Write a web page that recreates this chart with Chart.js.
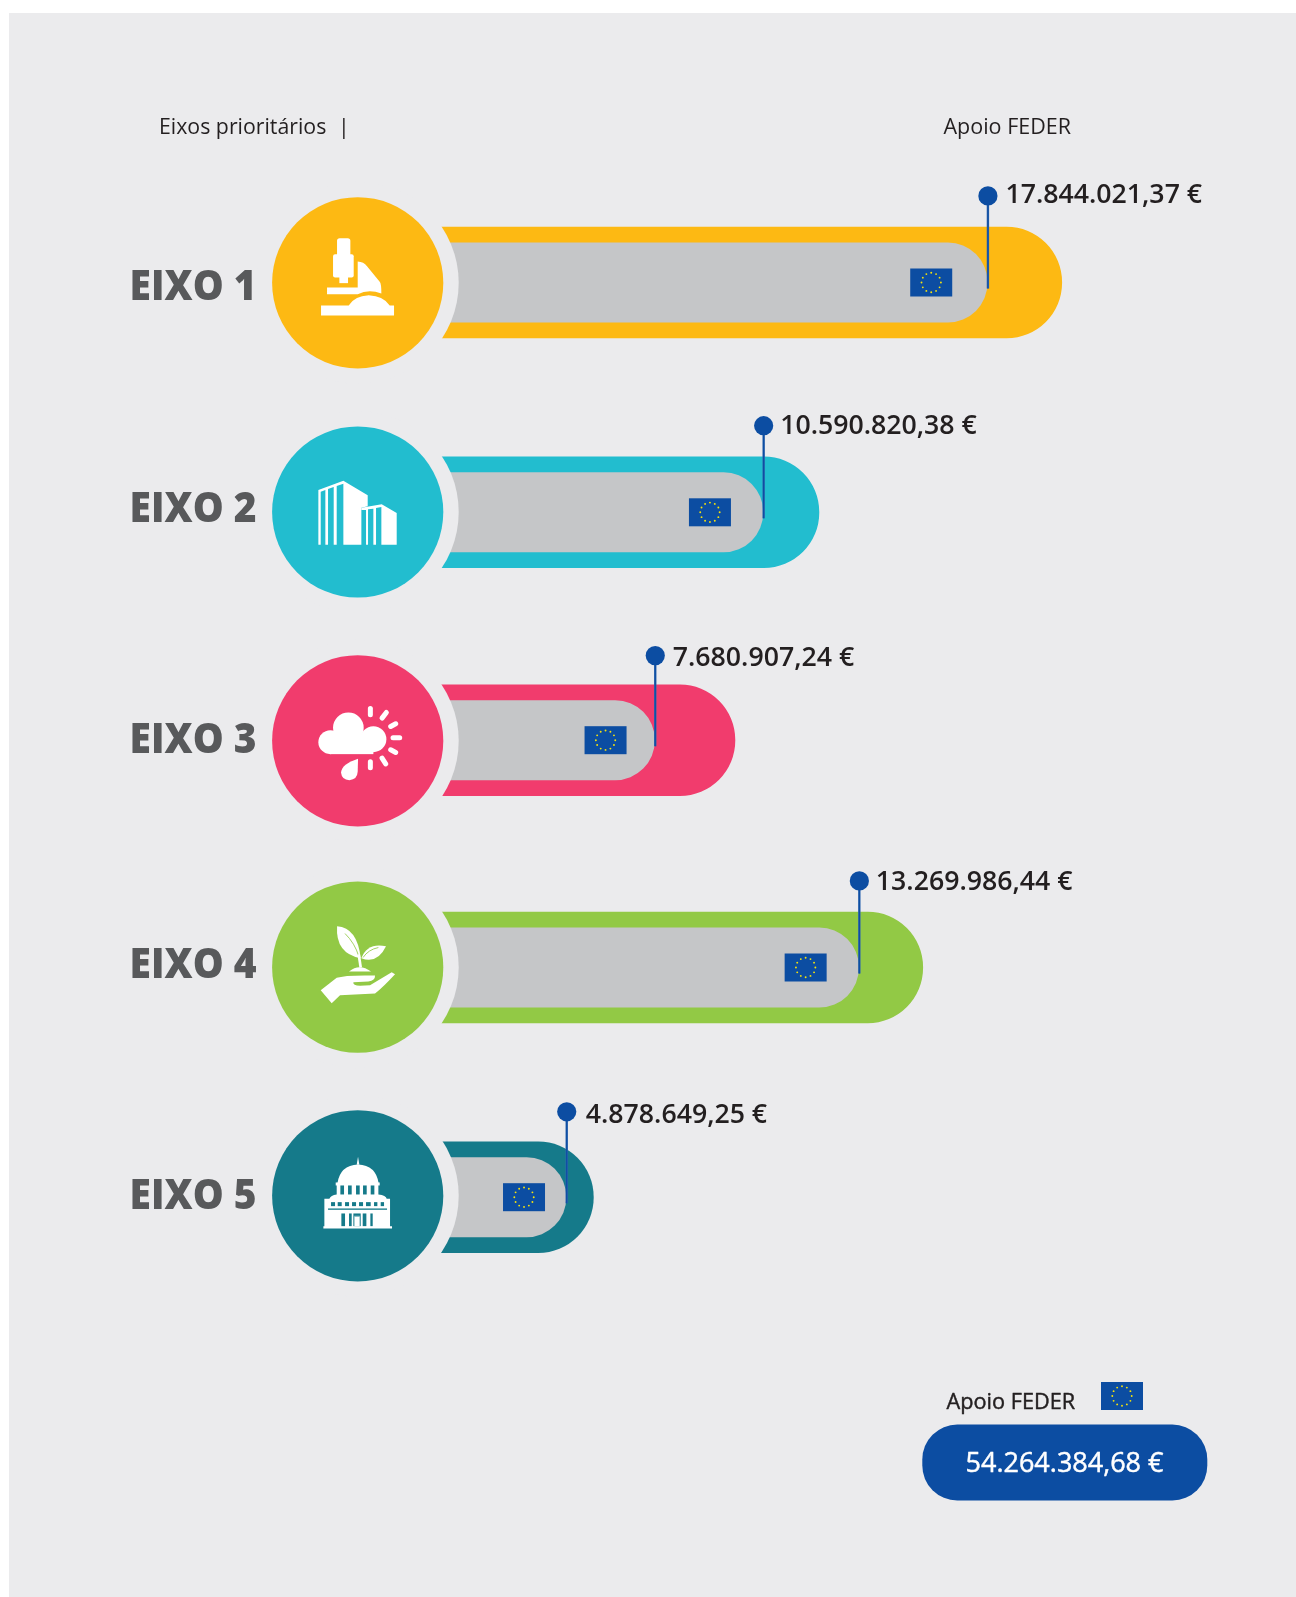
<!DOCTYPE html>
<html lang="pt">
<head>
<meta charset="utf-8">
<title>Apoio FEDER por eixo prioritário</title>
<style>html,body{margin:0;padding:0;background:#fff}canvas{display:block}</style>
<script src="https://cdn.jsdelivr.net/npm/chart.js@4/dist/chart.umd.js"></script>
</head>
<body>
<canvas id="c" width="1296" height="1597"></canvas>
<script>
// ---- Data ----
const categories = ['EIXO 1', 'EIXO 2', 'EIXO 3', 'EIXO 4', 'EIXO 5'];
// Printed amounts (euro)
const apoioFeder = [17844021.37, 10590820.38, 7680907.24, 13269986.44, 4878649.25];
const totalFeder = 54264384.68;
// Bar lengths as drawn (million-euro axis units). The infographic is not strictly proportional, so these are read off the picture.
const innerLengths = [17.85, 10.96, 7.63, 13.90, 4.91];
const outerLengths = [20.14, 12.68, 10.10, 15.87, 5.75];
const barColors = ['#fdb913', '#22bdcf', '#f13c6d', '#92c945', '#157a8a'];

const INK = '#231f20', BLUE = '#0c4da2', GREY = '#c5c6c8', BG = '#ebebed', LABEL = '#58595b';
const FONT = '"Open Sans", "Noto Sans", sans-serif';

// ---- Fine alignment (pixels) ----
const rowNudge = [-0.3, 0.9, 0.2, -1.1, 0];
const circleNudge = [0.3, -0.3, 0.6, -0.3, -1.4];
const flagGap = [77, 74, 70, 74, 63];
const labelBase = [17.2, 9.7, 11.9, 10.5, 12.9];
const dotShift = [0, 0, 2, 0, 1.2];
const textDrop = [6.6, 8.6, 10.6, 8.6, 11.6];
const textGap = [0, -1, 0, -1, 1.5];

const money = v => {
  const [i, d] = v.toFixed(2).split('.');
  return i.replace(/\B(?=(\d{3})+$)/g, '.') + ',' + d + ' €';
};

function drawFlag(ctx, x, y) {
  ctx.fillStyle = BLUE;
  ctx.fillRect(x, y, 42, 28);
  ctx.fillStyle = '#f5e20d';
  for (let i = 0; i < 12; i++) {
    const a = i * Math.PI / 6;
    ctx.beginPath();
    ctx.arc(x + 21 + 9.7 * Math.sin(a), y + 14 - 9.7 * Math.cos(a), 0.95, 0, 7);
    ctx.fill();
  }
}

// Icons are traced in a 3x grid relative to the circle centre
const icons = [
  (c, col) => { // microscope
    c.translate(-1072, -848);
    c.beginPath(); c.roundRect(1010, 714, 40, 60, 8); c.fill();
    c.beginPath(); c.roundRect(998, 762, 62, 70, 6); c.fill();
    c.fillRect(1017, 830, 26, 19);
    c.beginPath();
    c.moveTo(1072, 784); c.quadraticCurveTo(1090, 785, 1100, 798); c.lineTo(1138, 845);
    c.quadraticCurveTo(1143, 850, 1143, 880); c.quadraticCurveTo(1105, 866, 1072, 882);
    c.lineTo(980, 882); c.lineTo(980, 862); c.lineTo(1072, 862); c.closePath(); c.fill();
    c.beginPath();
    c.moveTo(962, 916); c.lineTo(1045, 916); c.quadraticCurveTo(1062, 887, 1105, 885);
    c.quadraticCurveTo(1150, 887, 1168, 916); c.lineTo(1181, 916); c.lineTo(1181, 946); c.lineTo(962, 946);
    c.closePath(); c.fill();
  },
  (c, col) => { // buildings
    c.translate(-293, -306);
    c.beginPath();
    c.moveTo(175, 240); c.lineTo(250, 212); c.lineTo(323, 256); c.lineTo(323, 289); c.lineTo(304, 293);
    c.lineTo(304, 404); c.lineTo(250, 404); c.lineTo(250, 221); c.lineTo(230, 228); c.lineTo(230, 404);
    c.lineTo(221, 404); c.lineTo(221, 231); c.lineTo(204, 237); c.lineTo(204, 404); c.lineTo(196, 404);
    c.lineTo(196, 240); c.lineTo(182, 245); c.lineTo(182, 404); c.lineTo(175, 404);
    c.closePath(); c.fill();
    c.beginPath();
    c.moveTo(304, 293); c.lineTo(365, 283); c.lineTo(410, 309); c.lineTo(410, 404); c.lineTo(364, 404);
    c.lineTo(364, 291); c.lineTo(348, 294); c.lineTo(348, 404); c.lineTo(340, 404); c.lineTo(340, 296);
    c.lineTo(324, 298); c.lineTo(324, 404); c.lineTo(318, 404); c.lineTo(318, 300); c.lineTo(304, 300);
    c.closePath(); c.fill();
  },
  (c, col) => { // cloud, sun rays and drop
    c.translate(-293, -302);
    c.beginPath(); c.arc(211, 306, 36, 0, 7); c.fill();
    c.beginPath(); c.arc(265, 263, 46, 0, 7); c.fill();
    c.beginPath(); c.arc(340, 297, 39, 0, 7); c.fill();
    c.fillRect(211, 285, 129, 57);
    c.strokeStyle = '#fff'; c.lineWidth = 15; c.lineCap = 'round';
    [[331, 205, 331, 224], [379, 217, 366, 234], [407, 251, 392, 259], [419, 293, 399, 293],
     [407, 337, 392, 329], [377, 371, 366, 354], [331, 365, 331, 383]].forEach(r => {
      c.beginPath(); c.moveTo(r[0], r[1]); c.lineTo(r[2], r[3]); c.stroke();
    });
    c.beginPath(); c.moveTo(294, 356); c.quadraticCurveTo(245, 372, 243, 397);
    c.quadraticCurveTo(245, 419, 268, 420); c.quadraticCurveTo(292, 418, 293, 395); c.closePath(); c.fill();
  },
  (c, col) => { // plant in a hand
    c.translate(-293, -291);
    c.beginPath(); c.moveTo(231, 168); c.quadraticCurveTo(292, 172, 302, 264); c.quadraticCurveTo(226, 250, 231, 168); c.fill();
    c.beginPath(); c.moveTo(378, 228); c.quadraticCurveTo(322, 216, 304, 264); c.quadraticCurveTo(352, 282, 378, 228); c.fill();
    c.strokeStyle = col; c.lineWidth = 2.5;
    c.beginPath(); c.moveTo(255, 190); c.quadraticCurveTo(285, 220, 296, 258); c.stroke();
    c.beginPath(); c.moveTo(355, 232); c.quadraticCurveTo(325, 238, 309, 262); c.stroke();
    c.strokeStyle = '#fff'; c.lineWidth = 8;
    c.beginPath(); c.moveTo(296, 252); c.lineTo(302, 292); c.stroke();
    c.beginPath(); c.moveTo(267, 304); c.quadraticCurveTo(298, 278, 333, 304); c.closePath(); c.fill();
    c.beginPath(); c.moveTo(182, 360); c.lineTo(230, 323); c.quadraticCurveTo(255, 314, 345, 316);
    c.quadraticCurveTo(346, 331, 325, 334); c.lineTo(280, 336); c.quadraticCurveTo(278, 346, 300, 347);
    c.lineTo(330, 345); c.lineTo(395, 306); c.lineTo(405, 312); c.quadraticCurveTo(370, 350, 345, 370);
    c.lineTo(240, 375); c.lineTo(215, 399); c.closePath(); c.fill();
  },
  (c, col) => { // parliament
    c.translate(-293, -287);
    c.beginPath(); c.moveTo(294, 170); c.lineTo(298, 194); c.lineTo(290, 194); c.closePath(); c.fill();
    c.beginPath(); c.moveTo(232, 250); c.quadraticCurveTo(240, 195, 294, 193); c.quadraticCurveTo(348, 195, 356, 250); c.closePath(); c.fill();
    c.fillRect(227, 247, 132, 9);
    c.fillRect(230, 254, 125, 32);
    c.beginPath(); c.moveTo(208, 296); c.quadraticCurveTo(212, 285, 230, 283); c.lineTo(355, 283);
    c.quadraticCurveTo(378, 285, 380, 296); c.lineTo(390, 296); c.lineTo(390, 378); c.lineTo(396, 378);
    c.lineTo(396, 385); c.lineTo(190, 385); c.lineTo(190, 378); c.lineTo(193, 378); c.lineTo(193, 296); c.closePath(); c.fill();
    c.fillStyle = col;
    [241, 264, 288, 309, 332].forEach(x => c.fillRect(x, 256, 11, 27));
    [[213, 12], [233, 12], [255, 12], [276, 12], [297, 12], [318, 14], [342, 10], [362, 10]].forEach(w => c.fillRect(w[0], 306, w[1], 12));
    c.fillRect(204, 325, 177, 4);
    [[244, 11], [267, 8], [280, 22], [308, 11], [331, 7]].forEach(w => c.fillRect(w[0], 340, w[1], 38));
    c.fillStyle = '#fff'; c.fillRect(283, 347, 16, 31);
    c.fillStyle = col; c.fillRect(283, 347, 16, 2);
  }
];

function mediumText(c, text, x, y, color) {
  c.fillStyle = color; c.strokeStyle = color; c.lineWidth = 0.45; c.lineJoin = 'round';
  c.fillText(text, x, y);
  c.strokeText(text, x, y);
}

const decorations = {
  id: 'decorations',
  beforeDraw(chart) {
    const c = chart.ctx;
    c.save();
    c.fillStyle = '#fff'; c.fillRect(0, 0, 1296, 1597);
    c.fillStyle = BG; c.fillRect(9, 13, 1287, 1584);
    c.restore();
  },
  beforeDatasetsDraw(chart) {
    // nudge the rows onto the slightly uneven spacing of the original
    chart.data.datasets.forEach((ds, d) => {
      chart.getDatasetMeta(d).data.forEach((el, i) => {
        if (el.$base === undefined) el.$base = el.y;
        el.y = el.$base + rowNudge[i];
      });
    });
  },
  afterDatasetsDraw(chart) {
    const c = chart.ctx, xs = chart.scales.x, ys = chart.scales.y;
    c.save();
    categories.forEach((name, i) => {
      const rowY = ys.getPixelForValue(i) + rowNudge[i];
      const cy = rowY + circleNudge[i];
      const cx = 357.7;
      const end = xs.getPixelForValue(innerLengths[i]);

      // flag on the inner bar
      drawFlag(c, end - flagGap[i], rowY - 14);

      // pin
      const pinX = end + 0.7;
      const dotY = rowY - 86.6 + dotShift[i];
      c.strokeStyle = '#2f66b0'; c.lineWidth = 2.4;
      c.beginPath(); c.moveTo(pinX, dotY); c.lineTo(pinX, rowY + 6); c.stroke();
      c.strokeStyle = BLUE; c.lineWidth = 1.2;
      c.beginPath(); c.moveTo(pinX, dotY); c.lineTo(pinX, rowY + 6); c.stroke();
      c.fillStyle = BLUE;
      c.beginPath(); c.arc(pinX, dotY, 9.6, 0, 7); c.fill();

      // value text
      c.fillStyle = INK; c.textBaseline = 'alphabetic'; c.textAlign = 'left';
      c.font = '600 26.7px ' + FONT;
      c.fillText(money(apoioFeder[i]), pinX + 17.5 + textGap[i], dotY + textDrop[i]);

      // ring and icon disc
      c.fillStyle = BG;
      c.beginPath(); c.arc(cx, cy, 101, 0, 7); c.fill();
      c.fillStyle = barColors[i];
      c.beginPath(); c.arc(cx, cy, 85.6, 0, 7); c.fill();
      c.save();
      c.translate(cx, cy); c.scale(1 / 3, 1 / 3);
      c.fillStyle = '#fff';
      icons[i](c, barColors[i]);
      c.restore();

      // row label (the original lettering is condensed)
      c.save();
      c.fillStyle = LABEL; c.textAlign = 'left';
      c.font = '800 43px ' + FONT;
      c.translate(129.6, cy + labelBase[i]);
      c.scale(0.905, 1);
      c.fillText(name, 0, 0);
      c.restore();
    });

    // header
    c.fillStyle = INK; c.font = '400 21.3px ' + FONT;
    c.fillText('Eixos prioritários', 159, 134);
    c.fillText('|', 338, 134);
    c.font = '400 21.5px ' + FONT;
    c.fillText('Apoio FEDER', 943.5, 134);

    // total
    c.font = '400 21.7px ' + FONT;
    mediumText(c, 'Apoio FEDER', 946.5, 1409, INK);
    drawFlag(c, 1101, 1382);
    c.fillStyle = BLUE;
    c.beginPath(); c.roundRect(922.3, 1424.5, 285, 76, 35); c.fill();
    c.font = '400 27px ' + FONT;
    mediumText(c, money(totalFeder), 965.5, 1472, '#fff');
    c.restore();
  }
};

new Chart(document.getElementById('c'), {
  type: 'bar',
  data: {
    labels: categories,
    datasets: [
      { label: 'Apoio FEDER', data: innerLengths, backgroundColor: GREY, order: 0,
        barThickness: 79.4, grouped: false, borderRadius: { topRight: 39.7, bottomRight: 39.7 }, borderSkipped: 'start' },
      { label: 'Custo total', data: outerLengths, backgroundColor: barColors, order: 1,
        barThickness: 110.8, grouped: false, borderRadius: { topRight: 55.4, bottomRight: 55.4 }, borderSkipped: 'start' }
    ]
  },
  options: {
    indexAxis: 'y',
    responsive: false,
    animation: false,
    events: [],
    layout: { padding: { left: 406.2, right: 1296 - (406.2 + 27 * 32.55), top: 168.5, bottom: 285.5 } },
    scales: {
      x: { type: 'linear', min: 0, max: 27, display: false },
      y: { type: 'category', display: false }
    },
    plugins: { legend: { display: false }, tooltip: { enabled: false }, title: { display: false } }
  },
  plugins: [decorations]
});
</script>
</body>
</html>
